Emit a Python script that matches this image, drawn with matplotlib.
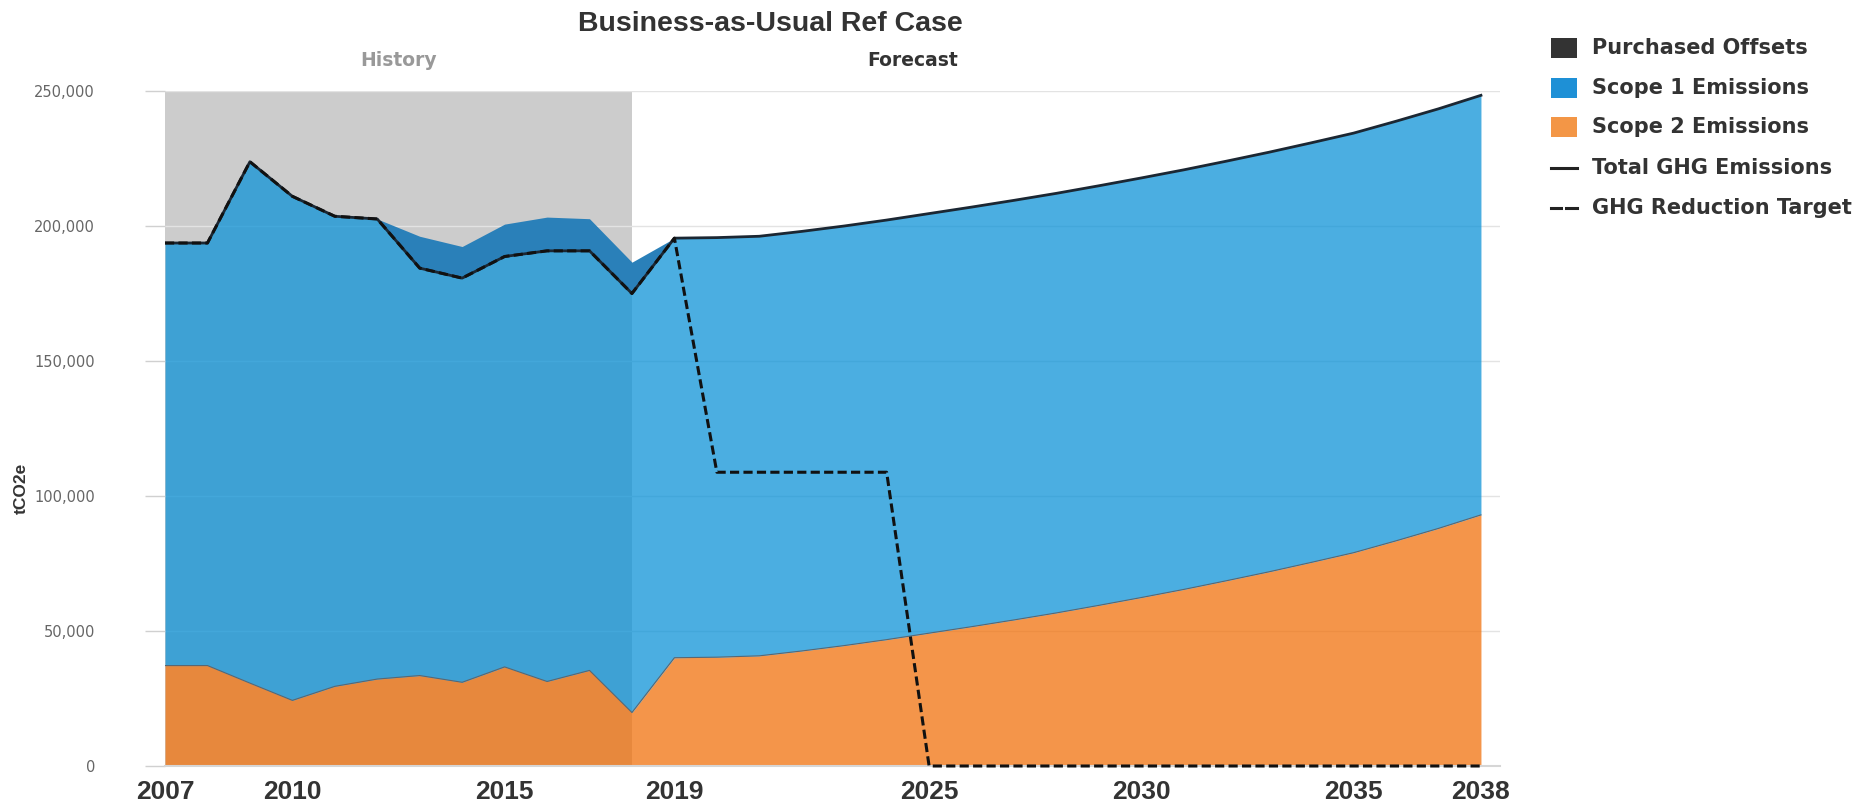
import matplotlib
matplotlib.use('Agg')
import matplotlib.pyplot as plt
from matplotlib.patches import Rectangle
from matplotlib.lines import Line2D
import numpy as np

# ---------------- data (tCO2e) ----------------
years = list(range(2007, 2039))

scope2 = [37200, 37200, 30700, 24300, 29500, 32200, 33500, 31000, 36700, 31300, 35400, 19800,
          40100, 40300, 40800, 42600, 44600, 46800, 49200, 51600, 54100, 56700, 59500, 62400,
          65400, 68600, 71900, 75400, 79000, 83400, 88000, 93000]

scope1 = [156500, 156500, 193100, 186700, 174100, 170400, 150900, 149700, 152000, 159500, 155400, 155200,
          155400, 155400, 155400, 155400, 155400, 155400, 155400, 155400, 155400, 155400, 155400, 155400,
          155400, 155400, 155400, 155400, 155400, 155400, 155400, 155400]

offsets = [0, 0, 0, 0, 0, 0, 11800, 11700, 12000, 12500, 11900, 11600,
           0, 0, 0, 0, 0, 0, 0, 0, 0, 0, 0, 0,
           0, 0, 0, 0, 0, 0, 0, 0]

target = [193700, 193700, 223800, 211000, 203600, 202600, 184400, 180700, 188700, 190800, 190800, 175000,
          195500, 108800, 108800, 108800, 108800, 108800, 0, 0, 0, 0, 0, 0,
          0, 0, 0, 0, 0, 0, 0, 0]

xtick_labels = [2007, 2010, 2015, 2019, 2025, 2030, 2035, 2038]
ytick_values = [0, 50000, 100000, 150000, 200000, 250000]
history_end = 2018

legend_labels = ['Purchased Offsets', 'Scope 1 Emissions', 'Scope 2 Emissions',
                 'Total GHG Emissions', 'GHG Reduction Target']

# ---------------- figure ----------------
W, H = 1868, 811
fig = plt.figure(figsize=(W / 100, H / 100), dpi=100)
fig.patch.set_facecolor('white')

def fx(px):
    return px / W

def fy(py):
    return 1 - py / H

ax_l, ax_r, ax_t, ax_b = 165, 1500, 91, 766
ax = fig.add_axes([fx(ax_l), fy(ax_b), (ax_r - ax_l) / W, (ax_b - ax_t) / H])
ax.set_xlim(2007, 2007 + (ax_r - ax_l) / 42.45)
ax.set_ylim(0, 250000)

yrs = np.array(years)
s2 = np.array(scope2, dtype=float)
s1 = np.array(scope1, dtype=float)
off = np.array(offsets, dtype=float)
total = s1 + s2

# history band
ax.axvspan(2007, history_end, color='#cccccc', lw=0, zorder=0.2)
# grid lines
for v in ytick_values[1:]:
    ax.axhline(v, color='#e3e3e3', lw=1.0, zorder=0.5)

c_s1 = (14 / 255, 147 / 255, 216 / 255)
c_s2 = (241 / 255, 114 / 255, 13 / 255)
ax.fill_between(yrs, 0, s2, color=c_s2, alpha=0.75, lw=0, zorder=2)
ax.fill_between(yrs, s2, s2 + s1, color=c_s1, alpha=0.75, lw=0, zorder=2)
ax.fill_between(yrs, total, total + off, where=off > 0, interpolate=True,
                color='#2a80b9', lw=0, zorder=2)
ax.plot(yrs, s2, color='#5b6670', lw=0.8, zorder=3)
ax.plot(yrs, total, color='#1b2733', lw=2.0, zorder=4)
ax.plot(yrs, target, color='#111111', lw=2.2, ls=(0, (3.0, 1.4)), zorder=7, clip_on=False)

# axes styling
for s in ['top', 'right', 'left']:
    ax.spines[s].set_visible(False)
ax.spines['bottom'].set_color('#d6d6d6')
ax.spines['bottom'].set_linewidth(1.5)
ax.spines['bottom'].set_zorder(6)

ax.set_yticks(ytick_values)
ax.set_yticklabels([f'{v:,}' for v in ytick_values])
ax.set_xticks(xtick_labels)
ax.set_xticklabels([str(v) for v in xtick_labels])
for t in ax.get_xticklabels():
    t.set_fontweight('bold')
    t.set_family('Liberation Sans')
for t in ax.get_yticklabels():
    t.set_family('DejaVu Sans')
ax.tick_params(axis='y', length=14.4, width=1, color='#d0d0d0', pad=36,
               labelsize=10.5, labelcolor='#666666')
ax.tick_params(axis='x', length=0, pad=10, labelsize=19, labelcolor='#333333')

# titles
fig.text(fx(770), fy(24), 'Business-as-Usual Ref Case', ha='center', va='center',
         fontsize=20.5, fontweight='bold', family=['Liberation Sans Narrow', 'Liberation Sans'],
         color='#333333')
fig.text(fx(399), fy(61), 'History', ha='center', va='center', fontsize=13.5,
         fontweight='bold', family='DejaVu Sans', color='#999999')
fig.text(fx(913), fy(61), 'Forecast', ha='center', va='center', fontsize=13.5,
         fontweight='bold', family='DejaVu Sans', color='#333333')
fig.text(fx(21), fy(488), 'tCO2e', rotation=90, ha='center', va='center', fontsize=12.5,
         fontweight='bold', family=['Liberation Sans Narrow', 'Liberation Sans'], color='#333333')

# legend (manual)
rows = [48, 88, 127, 168, 208]
sq_l, sq_r = 1551, 1577
sq_colors = ['#333333', '#1e90d6', '#f39646']
for i in range(3):
    y = rows[i]
    fig.add_artist(Rectangle((fx(sq_l), fy(y + 10)), (sq_r - sq_l) / W, 20 / H,
                             transform=fig.transFigure, color=sq_colors[i], lw=0))
fig.add_artist(Line2D([fx(sq_l), fx(sq_r)], [fy(rows[3]), fy(rows[3])],
                      transform=fig.transFigure, color='#222222', lw=2.2))
fig.add_artist(Line2D([fx(sq_l), fx(sq_l + 10)], [fy(rows[4]), fy(rows[4])],
                      transform=fig.transFigure, color='#222222', lw=2.2))
fig.add_artist(Line2D([fx(sq_l + 15), fx(sq_r)], [fy(rows[4]), fy(rows[4])],
                      transform=fig.transFigure, color='#222222', lw=2.2))
for i, lab in enumerate(legend_labels):
    fig.text(fx(1592), fy(rows[i]), lab, ha='left', va='center', fontsize=15,
             fontweight='bold', family='DejaVu Sans', color='#333333')

fig.savefig('out.png', dpi=100)
